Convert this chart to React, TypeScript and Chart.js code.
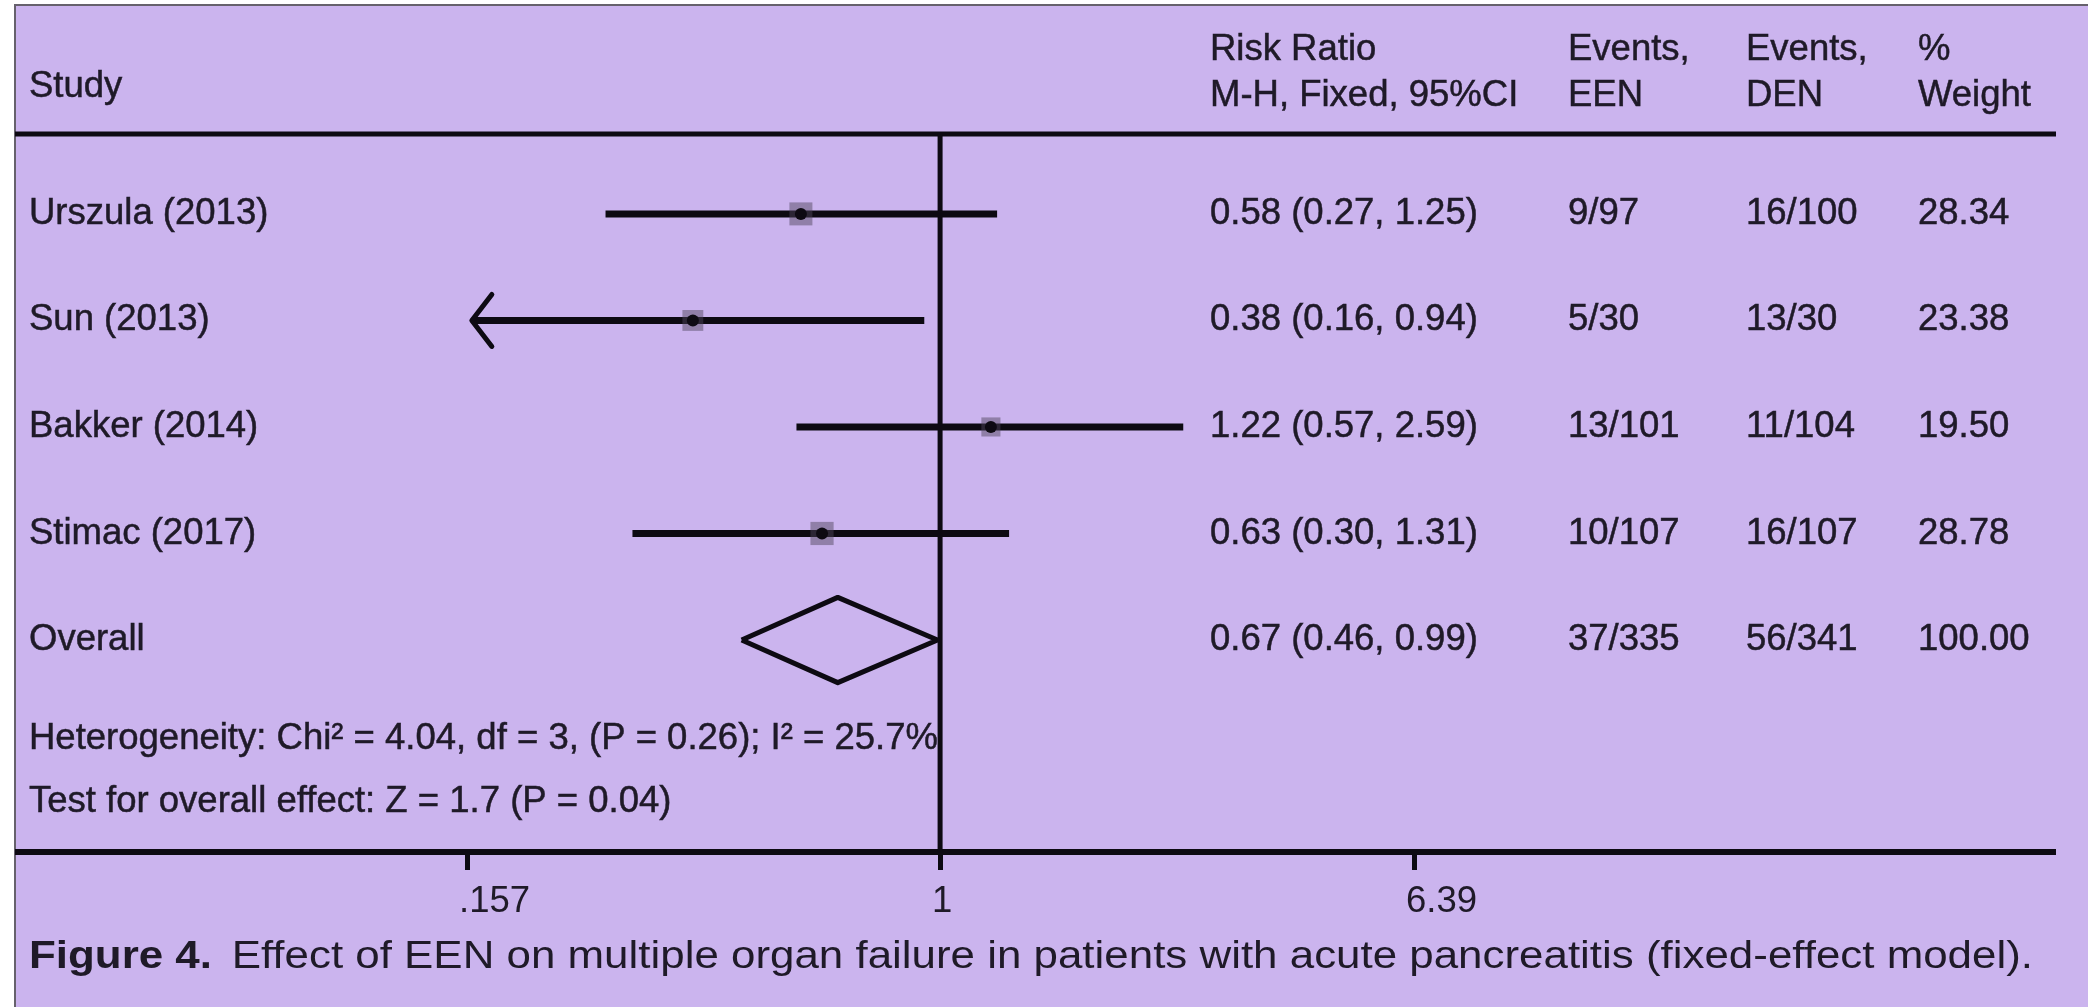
import React, { useEffect, useRef } from "react";
import { Chart, registerables } from "chart.js";

Chart.register(...registerables);

// ---- study data ----
const STUDIES = ["Urszula (2013)", "Sun (2013)", "Bakker (2014)", "Stimac (2017)"];
const RISK_RATIO = [0.58, 0.38, 1.22, 0.63];
const CI_LOW = [0.27, 0.16, 0.57, 0.3];
const CI_HIGH = [1.25, 0.94, 2.59, 1.31];
const EVENTS_EEN = ["9/97", "5/30", "13/101", "10/107"];
const EVENTS_DEN = ["16/100", "13/30", "11/104", "16/107"];
const WEIGHTS = [28.34, 23.38, 19.5, 28.78];
// lower limit runs off the left end of the axis -> drawn with an arrow head
const TRUNCATED_LOW = [false, true, false, false];

// ---- pooled estimate ----
const OVERALL_LABEL = "Overall";
const OVERALL_RR = [0.67];
const OVERALL_LOW = [0.46];
const OVERALL_HIGH = [0.99];
const OVERALL_EEN = ["37/335"];
const OVERALL_DEN = ["56/341"];
const OVERALL_WEIGHT = [100.0];

// ---- axis ----
const X_TICKS = [0.157, 1, 6.39];
const X_TICK_LABELS = [".157", "1", "6.39"];

// ---- text ----
const HEADERS = [
  ["Risk Ratio", "M-H, Fixed, 95%CI"],
  ["Events,", "EEN"],
  ["Events,", "DEN"],
  ["%", "Weight"],
];
const HETEROGENEITY = "Heterogeneity: Chi\u00b2 = 4.04, df = 3, (P = 0.26); I\u00b2 = 25.7%";
const OVERALL_TEST = "Test for overall effect: Z = 1.7 (P = 0.04)";
const CAPTION_LEAD = "Figure 4.";
const CAPTION_TEXT =
  "Effect of EEN on multiple organ failure in patients with acute pancreatitis (fixed-effect model).";

// ---- look ----
const FONT = '"Liberation Sans", Arial, Helvetica, sans-serif';
const INK = "#1f1a28";
const LINE = "#0d0a12";
const PANEL = "#cbb4ee";
const W = 2088;
const H = 1007;
const FS = 36.5;
const CAPTION_FS = 38;

const Y_TOP = -0.75;
const Y_BOTTOM = 5.99;
const OVERALL_ROW = STUDIES.length;
const HET_ROW = 4.93;
const TEST_ROW = 5.52;
const DIAMOND_HALF = 0.4;

const COL_STUDY = 29;
const COL_RR = 1210;
const COL_EEN = 1568;
const COL_DEN = 1746;
const COL_WEIGHT = 1918;
const RULE_LEFT = 15;
const RULE_RIGHT = 2056;

const f2 = (v: number) => v.toFixed(2);
const rrText = (e: number, lo: number, hi: number) => `${f2(e)} (${f2(lo)}, ${f2(hi)})`;

const panelPlugin = {
  id: "panel",
  beforeDraw(chart: any) {
    const { ctx, width, height } = chart;
    ctx.save();
    ctx.fillStyle = "#ffffff";
    ctx.fillRect(0, 0, width, height);
    ctx.fillStyle = PANEL;
    ctx.fillRect(RULE_LEFT, 5, width - RULE_LEFT, height - 5);
    ctx.strokeStyle = "#66616c";
    ctx.lineWidth = 2;
    ctx.beginPath();
    ctx.moveTo(RULE_LEFT, height);
    ctx.lineTo(RULE_LEFT, 5);
    ctx.lineTo(width, 5);
    ctx.stroke();
    ctx.restore();
  },
  beforeDatasetsDraw(chart: any) {
    const { ctx, chartArea } = chart;
    ctx.save();
    ctx.strokeStyle = LINE;
    ctx.lineWidth = 5;
    ctx.beginPath();
    ctx.moveTo(RULE_LEFT, chartArea.top);
    ctx.lineTo(RULE_RIGHT, chartArea.top);
    ctx.stroke();
    ctx.lineWidth = 6;
    ctx.beginPath();
    ctx.moveTo(RULE_LEFT, chartArea.bottom);
    ctx.lineTo(RULE_RIGHT, chartArea.bottom);
    ctx.stroke();
    ctx.restore();
  },
};

const arrowPlugin = {
  id: "arrows",
  afterDatasetsDraw(chart: any) {
    const { ctx } = chart;
    const xs = chart.scales.x;
    const ys = chart.scales.y;
    ctx.save();
    ctx.strokeStyle = LINE;
    ctx.lineWidth = 5;
    ctx.lineCap = "round";
    ctx.lineJoin = "round";
    TRUNCATED_LOW.forEach((t, i) => {
      if (!t) return;
      const x = xs.getPixelForValue(CI_LOW[i]);
      const y = ys.getPixelForValue(i);
      ctx.beginPath();
      ctx.moveTo(x + 20, y - 26);
      ctx.lineTo(x, y);
      ctx.lineTo(x + 20, y + 26);
      ctx.stroke();
    });
    ctx.restore();
  },
};

// filled text with a hairline outline so the strokes carry the same weight as print
function ink(ctx: CanvasRenderingContext2D, s: string, x: number, y: number) {
  ctx.fillText(s, x, y);
  ctx.strokeText(s, x, y);
}

const textPlugin = {
  id: "texts",
  afterDraw(chart: any) {
    const { ctx } = chart;
    const ys = chart.scales.y;
    ctx.save();
    ctx.fillStyle = INK;
    ctx.strokeStyle = INK;
    ctx.lineWidth = 0.5;
    ctx.font = `${FS}px ${FONT}`;
    ctx.textAlign = "left";

    // header
    ctx.textBaseline = "alphabetic";
    ink(ctx, "Study", COL_STUDY, 97);
    const cols = [COL_RR, COL_EEN, COL_DEN, COL_WEIGHT];
    HEADERS.forEach((h, k) => {
      ink(ctx, h[0], cols[k], 60);
      ink(ctx, h[1], cols[k], 106);
    });

    // study rows
    ctx.textBaseline = "middle";
    STUDIES.forEach((s, i) => {
      const y = ys.getPixelForValue(i);
      ink(ctx, s, COL_STUDY, y);
      ink(ctx, rrText(RISK_RATIO[i], CI_LOW[i], CI_HIGH[i]), COL_RR, y);
      ink(ctx, EVENTS_EEN[i], COL_EEN, y);
      ink(ctx, EVENTS_DEN[i], COL_DEN, y);
      ink(ctx, f2(WEIGHTS[i]), COL_WEIGHT, y);
    });

    // pooled row
    const yo = ys.getPixelForValue(OVERALL_ROW);
    ink(ctx, OVERALL_LABEL, COL_STUDY, yo);
    ink(ctx, rrText(OVERALL_RR[0], OVERALL_LOW[0], OVERALL_HIGH[0]), COL_RR, yo);
    ink(ctx, OVERALL_EEN[0], COL_EEN, yo);
    ink(ctx, OVERALL_DEN[0], COL_DEN, yo);
    ink(ctx, f2(OVERALL_WEIGHT[0]), COL_WEIGHT, yo);

    ink(ctx, HETEROGENEITY, COL_STUDY, ys.getPixelForValue(HET_ROW));
    ink(ctx, OVERALL_TEST, COL_STUDY, ys.getPixelForValue(TEST_ROW));

    // caption, stretched to the panel width
    const capY = 958;
    const boldFont = `bold ${CAPTION_FS}px ${FONT}`;
    const regFont = `${CAPTION_FS}px ${FONT}`;
    ctx.font = boldFont;
    const wLead = ctx.measureText(CAPTION_LEAD).width;
    ctx.font = regFont;
    const gap = CAPTION_FS * 0.45;
    const wText = ctx.measureText(CAPTION_TEXT).width;
    const target = 2033 - COL_STUDY;
    const sx = target / (wLead + gap + wText);
    ctx.translate(COL_STUDY, capY);
    ctx.scale(sx, 1);
    ctx.font = boldFont;
    ctx.fillText(CAPTION_LEAD, 0, 0);
    ctx.font = regFont;
    ctx.fillText(CAPTION_TEXT, wLead + gap, 0);
    ctx.restore();
  },
};

export default function App() {
  const ref = useRef<HTMLCanvasElement>(null);

  useEffect(() => {
    document.body.style.margin = "0";
    document.body.style.overflow = "hidden";
    const canvas = ref.current;
    if (!canvas) return;

    const rows = STUDIES.map((_, i) => i);
    const ciDatasets = rows.map((i) => ({
      data: [
        { x: CI_LOW[i], y: i },
        { x: CI_HIGH[i], y: i },
      ],
      showLine: true,
      borderColor: LINE,
      borderWidth: 7,
      pointRadius: 0,
      order: 4,
      clip: false,
    }));

    const chart = new Chart(canvas, {
      type: "scatter",
      data: {
        datasets: [
          {
            // line of no effect
            data: [
              { x: 1, y: Y_TOP },
              { x: 1, y: Y_BOTTOM },
            ],
            showLine: true,
            borderColor: LINE,
            borderWidth: 5,
            pointRadius: 0,
            order: 6,
            clip: false,
          },
          ...ciDatasets,
          {
            // weight boxes
            data: rows.map((i) => ({ x: RISK_RATIO[i], y: i })),
            pointStyle: "rect",
            pointRadius: WEIGHTS.map((w) => (23 * Math.sqrt(w / 28.34)) / Math.SQRT2),
            backgroundColor: "rgba(80, 70, 92, 0.48)",
            borderWidth: 0,
            order: 3,
            clip: false,
          },
          {
            // point estimates
            data: rows.map((i) => ({ x: RISK_RATIO[i], y: i })),
            pointStyle: "circle",
            pointRadius: 6,
            backgroundColor: LINE,
            borderWidth: 0,
            order: 2,
            clip: false,
          },
          {
            // pooled diamond
            data: [
              { x: OVERALL_LOW[0], y: OVERALL_ROW },
              { x: OVERALL_RR[0], y: OVERALL_ROW - DIAMOND_HALF },
              { x: OVERALL_HIGH[0], y: OVERALL_ROW },
              { x: OVERALL_RR[0], y: OVERALL_ROW + DIAMOND_HALF },
              { x: OVERALL_LOW[0], y: OVERALL_ROW },
            ],
            showLine: true,
            fill: false,
            borderColor: LINE,
            borderWidth: 5,
            borderJoinStyle: "round",
            pointRadius: 0,
            order: 1,
            clip: false,
          },
        ],
      },
      options: {
        responsive: false,
        animation: false,
        events: [],
        layout: { padding: { left: 467, right: W - 1414, top: 134, bottom: H - 852 - 60 } },
        plugins: { legend: { display: false }, tooltip: { enabled: false } },
        scales: {
          x: {
            type: "logarithmic",
            min: X_TICKS[0],
            max: X_TICKS[X_TICKS.length - 1],
            afterBuildTicks: (scale: any) => {
              scale.ticks = X_TICKS.map((v) => ({ value: v }));
            },
            afterFit: (scale: any) => {
              scale.height = 60;
            },
            border: { display: false },
            grid: {
              display: true,
              drawOnChartArea: false,
              drawTicks: true,
              tickLength: 18,
              tickWidth: 5,
              tickColor: LINE,
            },
            ticks: {
              autoSkip: false,
              maxRotation: 0,
              align: "start",
              labelOffset: -8,
              padding: 10,
              color: INK,
              font: { family: FONT, size: FS },
              callback: (_v: any, i: number) => X_TICK_LABELS[i],
            },
          },
          y: {
            type: "linear",
            display: false,
            reverse: true,
            min: Y_TOP,
            max: Y_BOTTOM,
          },
        },
      },
      plugins: [panelPlugin, arrowPlugin, textPlugin],
    } as any);

    return () => chart.destroy();
  }, []);

  return <canvas ref={ref} width={W} height={H} style={{ display: "block", width: W, height: H }} />;
}
